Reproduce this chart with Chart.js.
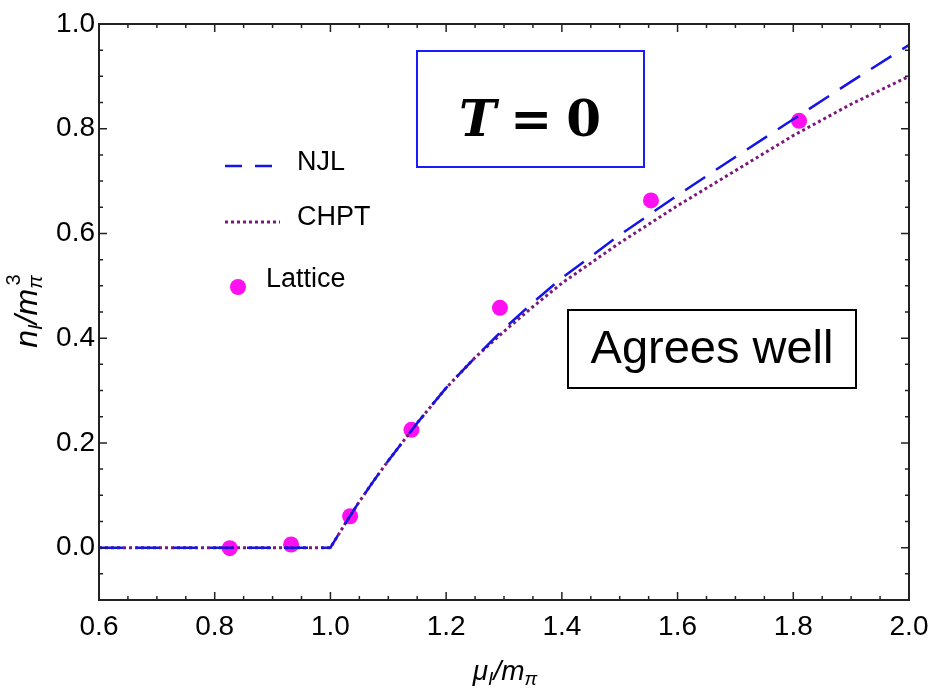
<!DOCTYPE html>
<html>
<head>
<meta charset="utf-8">
<script src="https://cdn.jsdelivr.net/npm/chart.js@4/dist/chart.umd.min.js"></script>
<style>
  body { margin: 0; background: #fff; }
  canvas { display: block; }
</style>
</head>
<body>
<canvas id="myChart" width="930" height="689"></canvas>
<script>
// NJL model curve (mu_I/m_pi -> n_I/m_pi^3)
const njlX = [0.6, 1.0, 1.025, 1.05, 1.075, 1.1, 1.15, 1.2, 1.25, 1.3, 1.35, 1.4, 1.5, 1.6, 1.7, 1.8, 1.9, 2.0];
const njlY = [0, 0, 0.045, 0.088, 0.128, 0.166, 0.238, 0.305, 0.363, 0.418, 0.468, 0.515, 0.597, 0.673, 0.746, 0.818, 0.89, 0.96];
// chiral perturbation theory
const chptX = [0.6, 1.0, 1.025, 1.05, 1.075, 1.1, 1.15, 1.2, 1.25, 1.3, 1.35, 1.4, 1.5, 1.6, 1.7, 1.8, 1.9, 2.0];
const chptY = [0, 0, 0.045, 0.088, 0.128, 0.166, 0.238, 0.305, 0.363, 0.413, 0.46, 0.505, 0.582, 0.653, 0.72, 0.787, 0.847, 0.90];
// lattice points
const latX = [0.826, 0.932, 1.034, 1.140, 1.293, 1.554, 1.810];
const latY = [-0.001, 0.006, 0.060, 0.225, 0.458, 0.663, 0.815];

const xTicks = [0.6, 0.8, 1.0, 1.2, 1.4, 1.6, 1.8, 2.0];
const yTicks = [0.0, 0.2, 0.4, 0.6, 0.8, 1.0];

const njlColor = '#1414e6';
const chptColor = '#7a1a7a';
const latColor = '#ff10f0';

const pts = (xs, ys) => xs.map((x, i) => ({ x: x, y: ys[i] }));

// draws text pieces with sub/superscripts, centred on x
function drawRich(ctx, parts, cx, base) {
  let w = 0;
  parts.forEach(p => { ctx.font = p.font; w += ctx.measureText(p.t).width + (p.gap || 0); });
  let x = cx - w / 2;
  parts.forEach(p => {
    ctx.font = p.font;
    ctx.fillText(p.t, x, base + (p.dy || 0));
    x += ctx.measureText(p.t).width + (p.gap || 0);
  });
}

const decor = {
  id: 'decor',
  afterDraw(chart) {
    const ctx = chart.ctx;
    const xs = chart.scales.x, ys = chart.scales.y;
    const a = chart.chartArea;
    ctx.save();
    // frame
    ctx.strokeStyle = '#222';
    ctx.lineWidth = 2;
    ctx.strokeRect(a.left, a.top, a.right - a.left, a.bottom - a.top);
    // inward ticks on all four sides
    ctx.lineWidth = 1.5;
    ctx.beginPath();
    for (let i = 0; i <= 28; i++) {
      const px = xs.getPixelForValue(0.6 + i * 0.05);
      const len = i % 4 === 0 ? 8 : 4;
      ctx.moveTo(px, a.bottom); ctx.lineTo(px, a.bottom - len);
      ctx.moveTo(px, a.top); ctx.lineTo(px, a.top + len);
    }
    for (let i = 0; i <= 22; i++) {
      const py = ys.getPixelForValue(-0.1 + i * 0.05);
      const len = (i - 2) % 4 === 0 ? 8 : 4;
      ctx.moveTo(a.left, py); ctx.lineTo(a.left + len, py);
      ctx.moveTo(a.right, py); ctx.lineTo(a.right - len, py);
    }
    ctx.stroke();

    // legend
    ctx.lineWidth = 2.5;
    ctx.strokeStyle = njlColor;
    ctx.setLineDash([17, 13]);
    ctx.beginPath(); ctx.moveTo(225, 166); ctx.lineTo(273, 166); ctx.stroke();
    ctx.strokeStyle = chptColor;
    ctx.lineWidth = 3;
    ctx.setLineDash([3, 3]);
    ctx.beginPath(); ctx.moveTo(225, 222); ctx.lineTo(280, 222); ctx.stroke();
    ctx.setLineDash([]);
    ctx.fillStyle = latColor;
    ctx.beginPath(); ctx.arc(238, 287, 8, 0, Math.PI * 2); ctx.fill();
    ctx.fillStyle = '#000';
    ctx.font = '27px "Liberation Sans", Arial, sans-serif';
    ctx.textBaseline = 'middle';
    ctx.textAlign = 'left';
    ctx.fillText('NJL', 297, 163);
    ctx.fillText('CHPT', 297, 218);
    ctx.fillText('Lattice', 266, 280);

    // T = 0 box
    ctx.fillStyle = '#fff';
    ctx.fillRect(417, 51, 227, 116);
    ctx.strokeStyle = '#1a1aff';
    ctx.lineWidth = 2;
    ctx.strokeRect(417, 51, 227, 116);
    ctx.fillStyle = '#000';
    ctx.textBaseline = 'alphabetic';
    const serif = '"DejaVu Serif", "Liberation Serif", serif';
    drawRich(ctx, [
      { t: 'T', font: 'italic bold 50px ' + serif, gap: 14 },
      { t: '=', font: 'bold 50px ' + serif, gap: 14 },
      { t: '0', font: 'bold 50px ' + serif }
    ], 530, 136);

    // Agrees well box
    ctx.fillStyle = '#fff';
    ctx.fillRect(568, 310, 288, 78);
    ctx.strokeStyle = '#000';
    ctx.lineWidth = 2;
    ctx.strokeRect(568, 310, 288, 78);
    ctx.fillStyle = '#000';
    ctx.font = '47px "Liberation Sans", Arial, sans-serif';
    ctx.textAlign = 'center';
    ctx.textBaseline = 'middle';
    ctx.fillText('Agrees well', 712, 350);

    // axis titles
    ctx.textAlign = 'left';
    ctx.textBaseline = 'alphabetic';
    const it = 'italic 28px "Liberation Sans", Arial, sans-serif';
    const sub = 'italic 19px "Liberation Sans", Arial, sans-serif';
    drawRich(ctx, [
      { t: '\u03bc', font: it },
      { t: 'I', font: sub, dy: 5 },
      { t: '/m', font: it },
      { t: '\u03c0', font: sub, dy: 5 }
    ], 505, 680);
    ctx.translate(37, 311);
    ctx.rotate(-Math.PI / 2);
    drawRich(ctx, [
      { t: 'n', font: 'italic 32px "Liberation Sans", Arial, sans-serif' },
      { t: 'I', font: 'italic 20px "Liberation Sans", Arial, sans-serif', dy: 5 },
      { t: '/m', font: 'italic 32px "Liberation Sans", Arial, sans-serif' },
      { t: '\u03c0', font: 'italic 20px "Liberation Sans", Arial, sans-serif', dy: 5, gap: -10 },
      { t: '3', font: '20px "Liberation Sans", Arial, sans-serif', dy: -17 }
    ], 0, 0);
    ctx.restore();
  }
};

const tickFont = { family: '"Liberation Sans", Arial, sans-serif', size: 28 };

new Chart(document.getElementById('myChart'), {
  type: 'scatter',
  data: {
    datasets: [
      {
        label: 'NJL',
        data: pts(njlX, njlY),
        showLine: true,
        borderColor: njlColor,
        borderWidth: 2.5,
        borderDash: [24, 13],
        pointRadius: 0,
        tension: 0
      },
      {
        label: 'CHPT',
        data: pts(chptX, chptY),
        showLine: true,
        borderColor: chptColor,
        borderWidth: 3,
        borderDash: [3, 3],
        pointRadius: 0,
        tension: 0
      },
      {
        label: 'Lattice',
        data: pts(latX, latY),
        showLine: false,
        backgroundColor: latColor,
        borderWidth: 0,
        pointRadius: 8
      }
    ]
  },
  options: {
    responsive: false,
    animation: false,
    layout: { padding: { left: 0, top: 24, right: 21, bottom: 0 } },
    plugins: { legend: { display: false }, tooltip: { enabled: false } },
    scales: {
      x: {
        type: 'linear',
        min: 0.6,
        max: 2.0,
        afterFit: s => { s.height = 89; s.paddingLeft = 0; s.paddingRight = 0; },
        afterBuildTicks: s => { s.ticks = xTicks.map(v => ({ value: v })); },
        grid: { display: false, drawTicks: false },
        border: { display: false },
        ticks: {
          color: '#000',
          font: tickFont,
          padding: 10,
          maxRotation: 0,
          callback: v => v.toFixed(1)
        }
      },
      y: {
        type: 'linear',
        min: -0.1,
        max: 1.0,
        afterFit: s => { s.width = 99; s.paddingTop = 0; s.paddingBottom = 0; },
        afterBuildTicks: s => { s.ticks = yTicks.map(v => ({ value: v })); },
        grid: { display: false, drawTicks: false },
        border: { display: false },
        ticks: {
          color: '#000',
          font: tickFont,
          padding: 4,
          callback: v => v.toFixed(1)
        }
      }
    }
  },
  plugins: [decor]
});
</script>
</body>
</html>
